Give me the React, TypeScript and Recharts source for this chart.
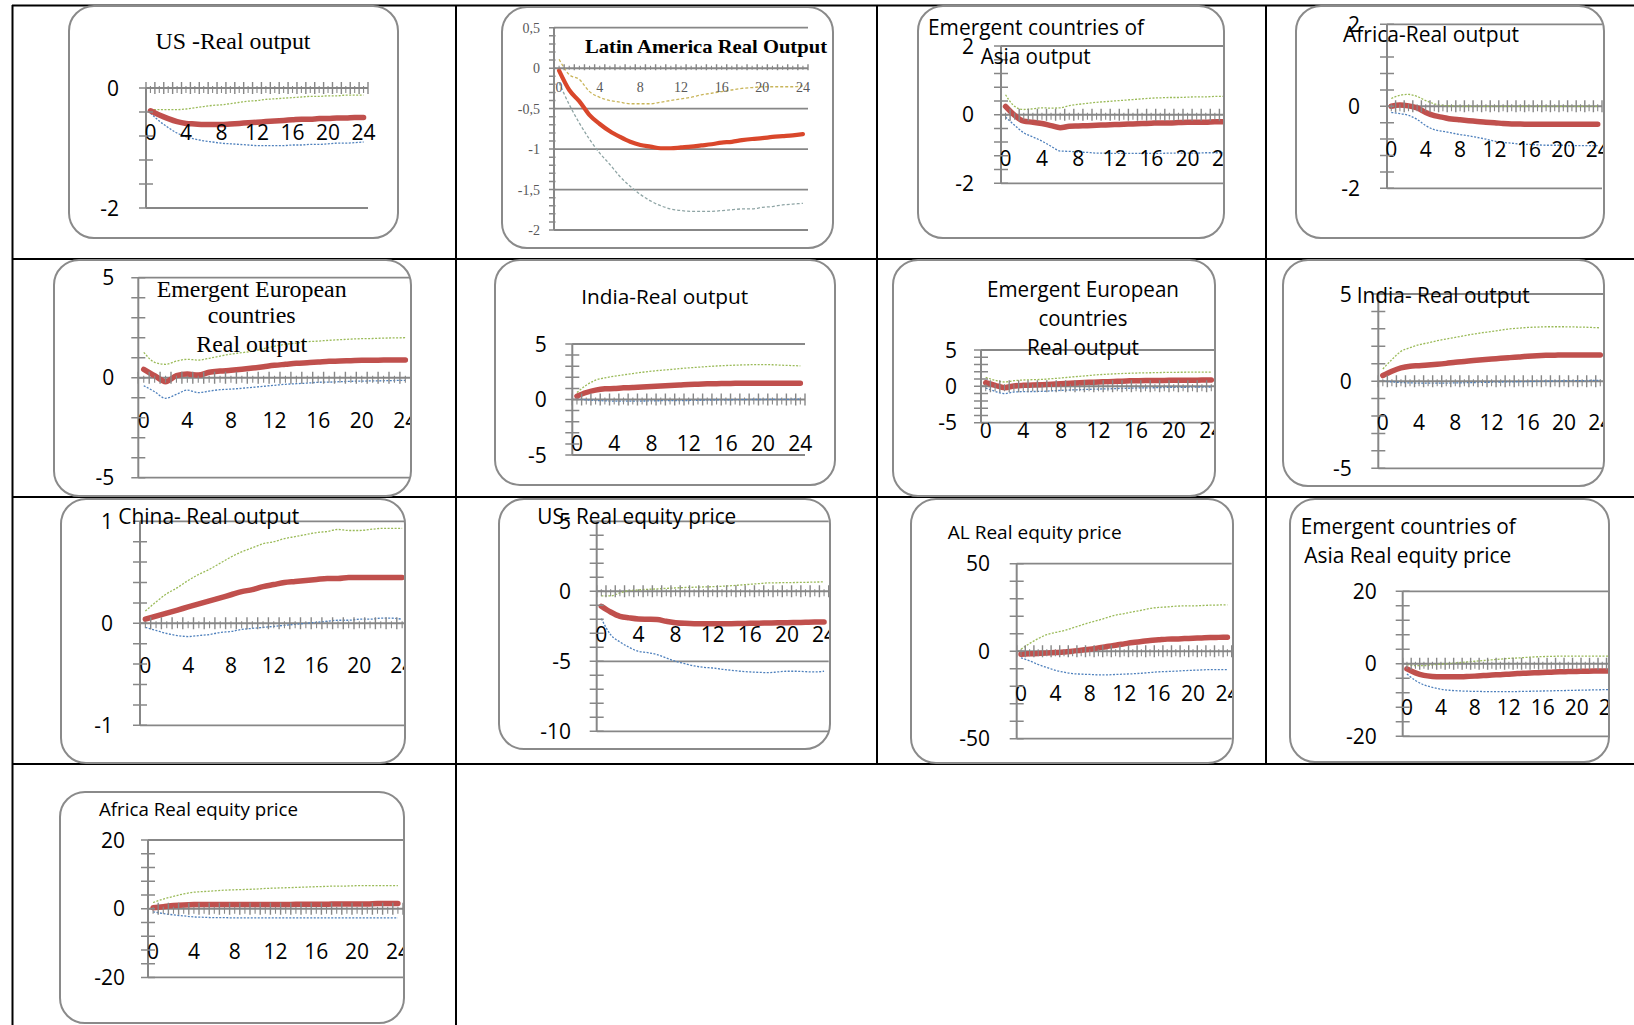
import React from 'react';
import { LineChart, Line, XAxis, YAxis, ReferenceLine, ReferenceDot } from 'recharts';

// Horizons of the impulse responses and the labelled ones
const STEPS = [0, 1, 2, 3, 4, 5, 6, 7, 8, 9, 10, 11, 12, 13, 14, 15, 16, 17, 18, 19, 20, 21, 22, 23, 24];
const STEP_LABELS = [0, 4, 8, 12, 16, 20, 24];

// US - real output
const usOutUpper = [-0.36, -0.36, -0.36, -0.36, -0.35, -0.33, -0.31, -0.29, -0.28, -0.26, -0.24, -0.22, -0.21, -0.19, -0.18, -0.17, -0.16, -0.15, -0.14, -0.14, -0.13, -0.13, -0.12, -0.12, -0.12];
const usOutIrf = [-0.38, -0.45, -0.51, -0.56, -0.59, -0.6, -0.61, -0.61, -0.61, -0.6, -0.59, -0.58, -0.57, -0.56, -0.55, -0.54, -0.53, -0.52, -0.52, -0.51, -0.51, -0.5, -0.5, -0.49, -0.49];
const usOutLower = [-0.42, -0.55, -0.66, -0.75, -0.81, -0.85, -0.88, -0.9, -0.92, -0.93, -0.94, -0.95, -0.96, -0.96, -0.96, -0.96, -0.95, -0.95, -0.94, -0.94, -0.93, -0.92, -0.92, -0.91, -0.9];

// Latin America - real output
const laOutUpper = [0.11, -0.08, -0.14, -0.29, -0.36, -0.4, -0.42, -0.44, -0.44, -0.44, -0.42, -0.4, -0.38, -0.36, -0.33, -0.31, -0.29, -0.27, -0.25, -0.24, -0.23, -0.23, -0.23, -0.23, -0.22];
const laOutIrf = [-0.03, -0.27, -0.41, -0.58, -0.69, -0.78, -0.85, -0.91, -0.95, -0.97, -0.99, -0.99, -0.98, -0.97, -0.955, -0.94, -0.92, -0.91, -0.89, -0.875, -0.865, -0.85, -0.84, -0.83, -0.815];
const laOutLower = [-0.18, -0.45, -0.68, -0.88, -1.05, -1.19, -1.34, -1.46, -1.56, -1.64, -1.7, -1.74, -1.76, -1.77, -1.77, -1.77, -1.76, -1.75, -1.74, -1.74, -1.72, -1.71, -1.69, -1.68, -1.67];

// Emerging Asia - output
const asOutUpper = [0.58, 0.24, 0.15, 0.17, 0.2, 0.19, 0.2, 0.26, 0.3, 0.33, 0.36, 0.38, 0.4, 0.42, 0.44, 0.46, 0.48, 0.49, 0.5, 0.5, 0.51, 0.52, 0.52, 0.53, 0.53];
const asOutIrf = [0.24, -0.02, -0.19, -0.22, -0.26, -0.32, -0.38, -0.34, -0.33, -0.32, -0.31, -0.3, -0.29, -0.28, -0.27, -0.26, -0.25, -0.24, -0.24, -0.23, -0.22, -0.22, -0.22, -0.21, -0.21];
const asOutLower = [-0.07, -0.31, -0.53, -0.65, -0.77, -0.92, -1.06, -1.07, -1.09, -1.1, -1.12, -1.12, -1.13, -1.13, -1.13, -1.13, -1.13, -1.13, -1.12, -1.12, -1.12, -1.12, -1.11, -1.11, -1.11];

// Africa - real output
const afOutUpper = [0.19, 0.27, 0.29, 0.24, 0.14, 0.06, 0.02, 0.01, 0, 0, 0, 0, 0, 0, 0, 0, 0, 0, 0, 0, 0, 0, 0, 0, 0];
const afOutIrf = [0, 0.03, 0.01, -0.04, -0.15, -0.23, -0.27, -0.31, -0.33, -0.35, -0.37, -0.39, -0.4, -0.42, -0.43, -0.43, -0.44, -0.44, -0.44, -0.44, -0.44, -0.44, -0.44, -0.44, -0.44];
const afOutLower = [-0.15, -0.18, -0.22, -0.32, -0.47, -0.57, -0.61, -0.65, -0.69, -0.72, -0.76, -0.8, -0.85, -0.88, -0.9, -0.92, -0.93, -0.94, -0.95, -0.95, -0.95, -0.96, -0.96, -0.96, -0.96];

// Emerging Europe - real output (first estimate)
const eeOutUpperA = [1.27, 0.77, 0.67, 0.83, 0.92, 0.88, 0.97, 1.08, 1.18, 1.25, 1.33, 1.45, 1.57, 1.67, 1.73, 1.8, 1.83, 1.87, 1.9, 1.93, 1.95, 1.96, 1.98, 1.99, 2.0];
const eeOutIrfA = [0.42, 0.1, -0.2, 0.1, 0.18, 0.13, 0.27, 0.33, 0.37, 0.42, 0.48, 0.55, 0.62, 0.67, 0.72, 0.75, 0.78, 0.82, 0.83, 0.85, 0.87, 0.87, 0.88, 0.88, 0.88];
const eeOutLowerA = [-0.4, -0.7, -1.03, -0.83, -0.62, -0.75, -0.67, -0.6, -0.57, -0.53, -0.48, -0.43, -0.38, -0.33, -0.3, -0.27, -0.23, -0.22, -0.2, -0.18, -0.17, -0.16, -0.15, -0.14, -0.13];

// India - real output (first estimate)
const inOutUpperA = [0.63, 1.29, 1.74, 1.95, 2.1, 2.22, 2.34, 2.45, 2.55, 2.63, 2.7, 2.78, 2.85, 2.91, 2.97, 3.02, 3.06, 3.09, 3.12, 3.14, 3.15, 3.13, 3.09, 3.06, 3.03];
const inOutIrfA = [0.3, 0.63, 0.84, 0.96, 0.99, 1.05, 1.08, 1.12, 1.17, 1.21, 1.26, 1.3, 1.35, 1.38, 1.41, 1.43, 1.44, 1.46, 1.47, 1.47, 1.47, 1.47, 1.47, 1.47, 1.47];
const inOutLowerA = [0.03, -0.03, -0.09, -0.12, -0.15, -0.15, -0.15, -0.14, -0.12, -0.11, -0.1, -0.1, -0.09, -0.07, -0.05, -0.04, -0.03, -0.02, -0.01, 0, 0, 0.01, 0.02, 0.02, 0.03];

// Emerging Europe - real output (second estimate)
const eeOutUpperB = [1.24, 0.83, 0.6, 0.78, 0.87, 0.92, 0.96, 1.05, 1.15, 1.27, 1.38, 1.49, 1.6, 1.67, 1.74, 1.79, 1.83, 1.86, 1.88, 1.91, 1.93, 1.94, 1.95, 1.96, 1.97];
const eeOutIrfB = [0.5, 0.14, -0.18, 0.05, 0.14, 0.18, 0.23, 0.3, 0.37, 0.43, 0.5, 0.55, 0.6, 0.65, 0.69, 0.74, 0.78, 0.8, 0.81, 0.82, 0.83, 0.84, 0.85, 0.86, 0.87];
const eeOutLowerB = [-0.23, -0.69, -1.0, -0.78, -0.73, -0.71, -0.69, -0.62, -0.55, -0.5, -0.46, -0.41, -0.37, -0.34, -0.3, -0.27, -0.23, -0.21, -0.19, -0.16, -0.14, -0.13, -0.11, -0.1, -0.09];

// India - real output (second estimate)
const inOutUpperB = [0.7, 1.24, 1.71, 1.92, 2.09, 2.2, 2.32, 2.42, 2.51, 2.61, 2.7, 2.78, 2.85, 2.93, 3.0, 3.04, 3.08, 3.1, 3.12, 3.12, 3.12, 3.11, 3.1, 3.08, 3.06];
const inOutIrfB = [0.32, 0.57, 0.76, 0.86, 0.89, 0.93, 0.97, 1.02, 1.08, 1.13, 1.18, 1.23, 1.27, 1.31, 1.35, 1.39, 1.43, 1.46, 1.48, 1.49, 1.5, 1.5, 1.5, 1.5, 1.5];
const inOutLowerB = [0, -0.04, -0.08, -0.1, -0.11, -0.11, -0.11, -0.11, -0.1, -0.09, -0.08, -0.07, -0.06, -0.05, -0.04, -0.03, -0.02, -0.01, 0, 0.01, 0.02, 0.03, 0.03, 0.04, 0.04];

// China - real output
const cnOutUpper = [0.12, 0.21, 0.29, 0.35, 0.42, 0.48, 0.53, 0.59, 0.65, 0.7, 0.74, 0.78, 0.8, 0.83, 0.85, 0.87, 0.89, 0.9, 0.92, 0.91, 0.91, 0.92, 0.93, 0.93, 0.93];
const cnOutIrf = [0.04, 0.07, 0.1, 0.13, 0.16, 0.19, 0.22, 0.25, 0.28, 0.31, 0.33, 0.36, 0.38, 0.4, 0.41, 0.42, 0.43, 0.44, 0.44, 0.45, 0.45, 0.45, 0.45, 0.45, 0.45];
const cnOutLower = [-0.04, -0.07, -0.1, -0.12, -0.13, -0.12, -0.11, -0.09, -0.08, -0.06, -0.05, -0.04, -0.03, -0.02, -0.01, 0, 0.01, 0.02, 0.03, 0.03, 0.04, 0.04, 0.05, 0.05, 0.04];

// US - real equity price
const usEqUpper = [-0.33, -0.33, -0.12, 0.05, 0.1, 0.14, 0.17, 0.21, 0.24, 0.27, 0.29, 0.31, 0.33, 0.36, 0.4, 0.45, 0.5, 0.55, 0.6, 0.61, 0.62, 0.63, 0.64, 0.66, 0.67];
const usEqIrf = [-1.07, -1.48, -1.79, -1.9, -1.98, -2.0, -2.02, -2.14, -2.24, -2.29, -2.31, -2.31, -2.31, -2.31, -2.31, -2.3, -2.29, -2.28, -2.26, -2.25, -2.24, -2.23, -2.21, -2.2, -2.19];
const usEqLower = [-1.95, -3.1, -3.62, -4.0, -4.29, -4.38, -4.52, -4.76, -5.0, -5.17, -5.33, -5.43, -5.48, -5.57, -5.64, -5.71, -5.76, -5.79, -5.81, -5.76, -5.71, -5.71, -5.74, -5.76, -5.71];

// Latin America - real equity price
const alEqUpper = [1.1, 4.4, 7.2, 9.5, 10.7, 11.8, 13.3, 14.9, 16.4, 17.7, 19.2, 20.6, 21.5, 22.5, 23.4, 24.4, 25.0, 25.3, 25.7, 25.9, 25.9, 26.1, 26.3, 26.4, 26.5];
const alEqIrf = [-1.7, -1.5, -1.3, -1.1, -0.8, -0.4, 0, 0.6, 1.1, 1.9, 2.7, 3.4, 4.2, 5.0, 5.5, 6.1, 6.5, 6.9, 7.0, 7.2, 7.4, 7.6, 7.8, 7.9, 8.0];
const alEqLower = [-3.8, -5.5, -7.6, -9.3, -10.9, -12.0, -12.8, -13.1, -13.3, -13.5, -13.5, -13.3, -13.1, -12.9, -12.6, -12.2, -11.8, -11.6, -11.4, -11.1, -10.9, -10.7, -10.5, -10.5, -10.5];

// Emerging Asia - real equity price
const asEqUpper = [-0.2, -0.5, -0.5, -0.3, -0.1, 0.1, 0.3, 0.5, 0.7, 0.9, 1.1, 1.3, 1.5, 1.6, 1.75, 1.9, 2.0, 2.05, 2.1, 2.1, 2.1, 2.1, 2.1, 2.1, 2.1];
const asEqIrf = [-1.4, -2.5, -3.2, -3.5, -3.6, -3.6, -3.6, -3.5, -3.4, -3.25, -3.1, -3.0, -2.85, -2.7, -2.6, -2.5, -2.4, -2.3, -2.2, -2.15, -2.1, -2.05, -2.0, -2.0, -2.0];
const asEqLower = [-2.8, -4.6, -5.8, -6.5, -7.0, -7.3, -7.45, -7.55, -7.6, -7.65, -7.7, -7.7, -7.7, -7.65, -7.6, -7.55, -7.5, -7.45, -7.4, -7.35, -7.3, -7.25, -7.2, -7.15, -7.1];

// Africa - real equity price
const afEqUpper = [1.8, 2.8, 3.6, 4.3, 4.8, 5.0, 5.2, 5.4, 5.5, 5.6, 5.7, 5.9, 6.0, 6.1, 6.2, 6.3, 6.4, 6.5, 6.6, 6.6, 6.7, 6.7, 6.7, 6.7, 6.7];
const afEqIrf = [0.3, 0.6, 0.9, 1.1, 1.2, 1.2, 1.2, 1.2, 1.2, 1.2, 1.2, 1.2, 1.2, 1.2, 1.3, 1.3, 1.3, 1.3, 1.4, 1.4, 1.4, 1.4, 1.5, 1.5, 1.5];
const afEqLower = [-0.9, -1.4, -1.8, -2.1, -2.4, -2.5, -2.6, -2.6, -2.7, -2.7, -2.7, -2.7, -2.7, -2.7, -2.7, -2.7, -2.7, -2.7, -2.7, -2.7, -2.7, -2.7, -2.7, -2.7, -2.7];

// Value-axis tick sets
const TICKS_2 = [2, 1.6, 1.2, 0.8, 0.4, 0, -0.4, -0.8, -1.2, -1.6, -2];
const TICKS_US = [0, -0.4, -0.8, -1.2, -1.6, -2];
const TICKS_LA = [0.5, 0.4, 0.3, 0.2, 0.1, 0, -0.1, -0.2, -0.3, -0.4, -0.5, -0.6, -0.7, -0.8, -0.9, -1, -1.1, -1.2, -1.3, -1.4, -1.5, -1.6, -1.7, -1.8, -1.9, -2];
const TICKS_5 = [5, 4, 3, 2, 1, 0, -1, -2, -3, -4, -5];
const TICKS_1 = [1, 0.8, 0.6, 0.4, 0.2, 0, -0.2, -0.4, -0.6, -0.8, -1];
const TICKS_USEQ = [5, 4, 3, 2, 1, 0, -1, -2, -3, -4, -5, -6, -7, -8, -9, -10];
const TICKS_50 = [50, 40, 30, 20, 10, 0, -10, -20, -30, -40, -50];
const TICKS_20 = [20, 16, 12, 8, 4, 0, -4, -8, -12, -16, -20];

const AXIS = '#878787';
const SANS = "'Open Sans', 'Noto Sans', sans-serif";
const SERIF = "'Liberation Serif', 'DejaVu Serif', serif";

type Look = {
  font: string; size: number; color: string;
  yOut: number; yIn: number; bUp: number; bDown: number; cUp: number; cDown: number;
  hi: string; hiW: number; up: string; lo: string; dash: string; dotW: number; sep: string;
};

const STD: Look = {
  font: SANS, size: 21, color: '#000', yOut: 7, yIn: 7, bUp: 6, bDown: 6, cUp: 2, cDown: 5,
  hi: '#C0504D', hiW: 5.5, up: '#9BBB59', lo: '#4F81BD', dash: '2 1.5', dotW: 1.3, sep: '.',
};
const LATIN: Look = {
  font: SERIF, size: 14, color: '#595959', yOut: 5, yIn: 1.5, bUp: 4, bDown: 2, cUp: 2.5, cDown: 1.5,
  hi: '#D9472B', hiW: 4.2, up: '#C9B55A', lo: '#8FA5A5', dash: '3 2', dotW: 1.3, sep: ',',
};

type Panel = {
  id: string;
  box: [number, number, number, number];
  axisX: number; yTop: number; yBot: number; plotRight: number;
  domain: [number, number];
  yTicks: number[]; yLabels: number[]; grid: number[];
  labelGap: number; xLabelDy: number;
  upper: number[]; irf: number[]; lower: number[];
  look: Look;
};

const PANELS: Panel[] = [
  { id: 'us-out', box: [69, 6, 329, 232], axisX: 146, yTop: 88, yBot: 208, plotRight: 368, domain: [-2, 0], yTicks: TICKS_US, yLabels: [0, -2], grid: [-2], labelGap: 27, xLabelDy: 44, upper: usOutUpper, irf: usOutIrf, lower: usOutLower, look: STD },
  { id: 'la-out', box: [502, 7, 331, 241], axisX: 554, yTop: 27.7, yBot: 230, plotRight: 808, domain: [-2, 0.5], yTicks: TICKS_LA, yLabels: [0.5, 0, -0.5, -1, -1.5, -2], grid: [0.5, -0.5, -1, -1.5, -2], labelGap: 14, xLabelDy: 19, upper: laOutUpper, irf: laOutIrf, lower: laOutLower, look: LATIN },
  { id: 'as-out', box: [918, 6, 306, 232], axisX: 1001, yTop: 46, yBot: 183.3, plotRight: 1228.5, domain: [-2, 2], yTicks: TICKS_2, yLabels: [2, 0, -2], grid: [2, -2], labelGap: 27, xLabelDy: 44, upper: asOutUpper, irf: asOutIrf, lower: asOutLower, look: STD },
  { id: 'af-out', box: [1296, 6, 308, 232], axisX: 1387, yTop: 24.3, yBot: 188.3, plotRight: 1602, domain: [-2, 2], yTicks: TICKS_2, yLabels: [2, 0, -2], grid: [2, -2], labelGap: 27, xLabelDy: 43, upper: afOutUpper, irf: afOutIrf, lower: afOutLower, look: STD },
  { id: 'ee-out-a', box: [54, 260, 357, 236], axisX: 138.3, yTop: 277.7, yBot: 477.7, plotRight: 410.8, domain: [-5, 5], yTicks: TICKS_5, yLabels: [5, 0, -5], grid: [5, -5], labelGap: 24, xLabelDy: 42.3, upper: eeOutUpperA, irf: eeOutIrfA, lower: eeOutLowerA, look: STD },
  { id: 'in-out-a', box: [495, 260, 340, 225], axisX: 572.3, yTop: 344, yBot: 455, plotRight: 805, domain: [-5, 5], yTicks: TICKS_5, yLabels: [5, 0, -5], grid: [5, -5], labelGap: 25.6, xLabelDy: 44, upper: inOutUpperA, irf: inOutIrfA, lower: inOutLowerA, look: STD },
  { id: 'ee-out-b', box: [893, 260, 322, 236], axisX: 981, yTop: 350, yBot: 422.7, plotRight: 1216, domain: [-5, 5], yTicks: TICKS_5, yLabels: [5, 0, -5], grid: [5, -5], labelGap: 24, xLabelDy: 44, upper: eeOutUpperB, irf: eeOutIrfB, lower: eeOutLowerB, look: STD },
  { id: 'in-out-b', box: [1283, 260, 321, 226], axisX: 1378.3, yTop: 294, yBot: 468.3, plotRight: 1604.8, domain: [-5, 5], yTicks: TICKS_5, yLabels: [5, 0, -5], grid: [5, -5], labelGap: 26.6, xLabelDy: 41.7, upper: inOutUpperB, irf: inOutIrfB, lower: inOutLowerB, look: STD },
  { id: 'cn-out', box: [61, 499, 344, 264], axisX: 140, yTop: 521.3, yBot: 725.3, plotRight: 407.5, domain: [-1, 1], yTicks: TICKS_1, yLabels: [1, 0, -1], grid: [1, -1], labelGap: 27, xLabelDy: 41.7, upper: cnOutUpper, irf: cnOutIrf, lower: cnOutLower, look: STD },
  { id: 'us-eq', box: [499, 499, 331, 250], axisX: 596.7, yTop: 521.3, yBot: 731.3, plotRight: 828.7, domain: [-10, 5], yTicks: TICKS_USEQ, yLabels: [5, 0, -5, -10], grid: [5, -5, -10], labelGap: 25.7, xLabelDy: 43.3, upper: usEqUpper, irf: usEqIrf, lower: usEqLower, look: STD },
  { id: 'al-eq', box: [911, 499, 322, 264], axisX: 1016.7, yTop: 563.7, yBot: 738.7, plotRight: 1231.7, domain: [-50, 50], yTicks: TICKS_50, yLabels: [50, 0, -50], grid: [50, -50], labelGap: 26.7, xLabelDy: 42.3, upper: alEqUpper, irf: alEqIrf, lower: alEqLower, look: STD },
  { id: 'as-eq', box: [1290, 499, 319, 263], axisX: 1402.7, yTop: 591.3, yBot: 736.3, plotRight: 1615, domain: [-20, 20], yTicks: TICKS_20, yLabels: [20, 0, -20], grid: [20, -20], labelGap: 26, xLabelDy: 43.3, upper: asEqUpper, irf: asEqIrf, lower: asEqLower, look: STD },
  { id: 'af-eq', box: [60, 792, 344, 231], axisX: 148, yTop: 840, yBot: 977.4, plotRight: 403, domain: [-20, 20], yTicks: TICKS_20, yLabels: [20, 0, -20], grid: [20, -20], labelGap: 23, xLabelDy: 42.8, upper: afEqUpper, irf: afEqIrf, lower: afEqLower, look: STD },
];

type Title = { lines: string[]; xs: number[]; ys: number[]; widths: number[]; anchor: 'start' | 'middle'; font: string; size: number; bold?: boolean };

const TITLES: Title[] = [
  { lines: ['US -Real output'], xs: [233], ys: [49], widths: [155], anchor: 'middle', font: SERIF, size: 23 },
  { lines: ['Latin America Real Output'], xs: [585], ys: [52.7], widths: [242], anchor: 'start', font: SERIF, size: 19, bold: true },
  { lines: ['Emergent countries of', 'Asia output'], xs: [928, 980.7], ys: [35, 64], widths: [216, 110], anchor: 'start', font: SANS, size: 21 },
  { lines: ['Africa-Real output'], xs: [1343], ys: [42], widths: [176], anchor: 'start', font: SANS, size: 21 },
  { lines: ['Emergent European', 'countries', 'Real output'], xs: [251.7, 251.7, 251.7], ys: [296.7, 323.3, 351.7], widths: [190, 88, 111], anchor: 'middle', font: SERIF, size: 23 },
  { lines: ['India-Real output'], xs: [664.7], ys: [304], widths: [167], anchor: 'middle', font: SANS, size: 20 },
  { lines: ['Emergent European', 'countries', 'Real output'], xs: [1083, 1083, 1083], ys: [296.7, 325.7, 355], widths: [192, 89, 112], anchor: 'middle', font: SANS, size: 21 },
  { lines: ['India- Real output'], xs: [1356.7], ys: [303.3], widths: [173], anchor: 'start', font: SANS, size: 21 },
  { lines: ['China- Real output'], xs: [118.3], ys: [523.7], widths: [181], anchor: 'start', font: SANS, size: 21 },
  { lines: ['US- Real equity price'], xs: [537.3], ys: [524.3], widths: [199], anchor: 'start', font: SANS, size: 21 },
  { lines: ['AL  Real equity price'], xs: [947.7], ys: [538.7], widths: [174], anchor: 'start', font: SANS, size: 18 },
  { lines: ['Emergent countries of', 'Asia Real equity price'], xs: [1300.7, 1304.3], ys: [534.3, 562.7], widths: [215, 207], anchor: 'start', font: SANS, size: 21 },
  { lines: ['Africa Real equity price'], xs: [99], ys: [816], widths: [199], anchor: 'start', font: SANS, size: 18 },
];

const BOX_R = 26;
const BOUNDS = STEPS.map((s) => s - 0.5).concat([24.5]);

function fmt(v: number, sep: string) {
  const s = String(Math.round(v * 100) / 100);
  return sep === ',' ? s.replace('.', ',') : s;
}

function PanelChart({ p }: { p: Panel }) {
  const [bx, by, bw, bh] = p.box;
  const L = p.look;
  const axisWidth = p.axisX - bx;
  const margin = {
    left: 0,
    top: p.yTop - by,
    right: bx + bw - p.plotRight,
    bottom: by + bh - p.yBot,
  };
  const rows = STEPS.map((t, i) => ({ t, up: p.upper[i], irf: p.irf[i], lo: p.lower[i] }));

  const yTick = (props: any) => {
    const { x, y, payload } = props;
    const v = payload.value as number;
    const labelled = p.yLabels.some((l) => Math.abs(l - v) < 1e-6);
    return (
      <g>
        <line x1={x - L.yOut} x2={x + L.yIn} y1={y} y2={y} stroke={AXIS} strokeWidth={1.5} />
        {labelled && (
          <text x={x - p.labelGap} y={y} dy="0.36em" textAnchor="end" fontFamily={L.font} fontSize={L.size} fill={L.color}>
            {fmt(v, L.sep)}
          </text>
        )}
      </g>
    );
  };

  const mark = (up: number, down: number, w: number) => (props: any) => (
    <line x1={props.cx} x2={props.cx} y1={props.cy - up} y2={props.cy + down} stroke={AXIS} strokeWidth={w} />
  );
  const stepLabel = (v: number) => (props: any) => (
    <text x={props.cx} y={props.cy + p.xLabelDy} dy="0.36em" textAnchor="middle" fontFamily={L.font} fontSize={L.size} fill={L.color}>
      {v}
    </text>
  );

  return (
    <>
      <div style={{ position: 'absolute', left: bx, top: by, width: bw, height: bh, borderRadius: BOX_R, overflow: 'hidden' }}>
        <LineChart width={bw} height={bh} data={rows} margin={margin}>
          <XAxis type="number" dataKey="t" domain={[-0.5, 24.5]} allowDataOverflow hide />
          <YAxis
            type="number"
            domain={p.domain}
            allowDataOverflow
            width={axisWidth}
            ticks={p.yTicks}
            interval={0}
            tickLine={false}
            tickSize={0}
            tickMargin={0}
            axisLine={{ stroke: AXIS, strokeWidth: 2 }}
            tick={yTick}
          />
          {p.grid.map((v) => (
            <ReferenceLine key={'g' + v} y={v} stroke={AXIS} strokeWidth={1.8} ifOverflow="visible" />
          ))}
          <ReferenceLine y={0} stroke={AXIS} strokeWidth={2} ifOverflow="visible" />
          {BOUNDS.map((b) => (
            <ReferenceDot key={'b' + b} x={b} y={0} ifOverflow="visible" shape={mark(L.bUp, L.bDown, 1.4)} />
          ))}
          {STEPS.map((s) => (
            <ReferenceDot key={'c' + s} x={s} y={0} ifOverflow="visible" shape={mark(L.cUp, L.cDown, 1.1)} />
          ))}
          {STEP_LABELS.map((s) => (
            <ReferenceDot key={'l' + s} x={s} y={0} ifOverflow="visible" shape={stepLabel(s)} />
          ))}
          <Line type="monotone" dataKey="up" stroke={L.up} strokeWidth={L.dotW} strokeDasharray={L.dash} dot={false} isAnimationActive={false} />
          <Line type="monotone" dataKey="lo" stroke={L.lo} strokeWidth={L.dotW} strokeDasharray={L.dash} dot={false} isAnimationActive={false} />
          <Line type="monotone" dataKey="irf" stroke={L.hi} strokeWidth={L.hiW} strokeLinecap="round" dot={false} isAnimationActive={false} />
        </LineChart>
      </div>
      <div
        style={{
          position: 'absolute',
          left: bx - 1.25,
          top: by - 1.25,
          width: bw + 2.5,
          height: bh + 2.5,
          borderRadius: BOX_R,
          border: '2.5px solid #8a8a8a',
          boxSizing: 'border-box',
          pointerEvents: 'none',
        }}
      />
    </>
  );
}

export default function App() {
  return (
    <div style={{ position: 'absolute', left: 0, top: 0, width: 1634, height: 1025, background: '#fff', overflow: 'hidden' }}>
      <svg width={1634} height={1025} style={{ position: 'absolute', left: 0, top: 0 }}>
        <g stroke="#000" strokeWidth={2}>
          <line x1={12.5} x2={12.5} y1={5} y2={1025} />
          <line x1={456} x2={456} y1={5} y2={1025} />
          <line x1={877} x2={877} y1={5} y2={764} />
          <line x1={1266} x2={1266} y1={5} y2={764} />
          <line x1={12} x2={1634} y1={5.5} y2={5.5} />
          <line x1={12} x2={1634} y1={259} y2={259} />
          <line x1={12} x2={1634} y1={497} y2={497} />
          <line x1={12} x2={1634} y1={764} y2={764} />
        </g>
      </svg>
      {PANELS.map((p) => (
        <PanelChart key={p.id} p={p} />
      ))}
      <svg width={1634} height={1025} style={{ position: 'absolute', left: 0, top: 0, pointerEvents: 'none' }}>
        {TITLES.map((t, i) =>
          t.lines.map((line, j) => (
            <text
              key={i + '-' + j}
              x={t.xs[j]}
              y={t.ys[j]}
              textAnchor={t.anchor}
              fontFamily={t.font}
              fontSize={t.size}
              fontWeight={t.bold ? 700 : 400}
              textLength={t.widths[j]}
              lengthAdjust="spacingAndGlyphs"
              fill="#000"
            >
              {line}
            </text>
          ))
        )}
      </svg>
    </div>
  );
}
